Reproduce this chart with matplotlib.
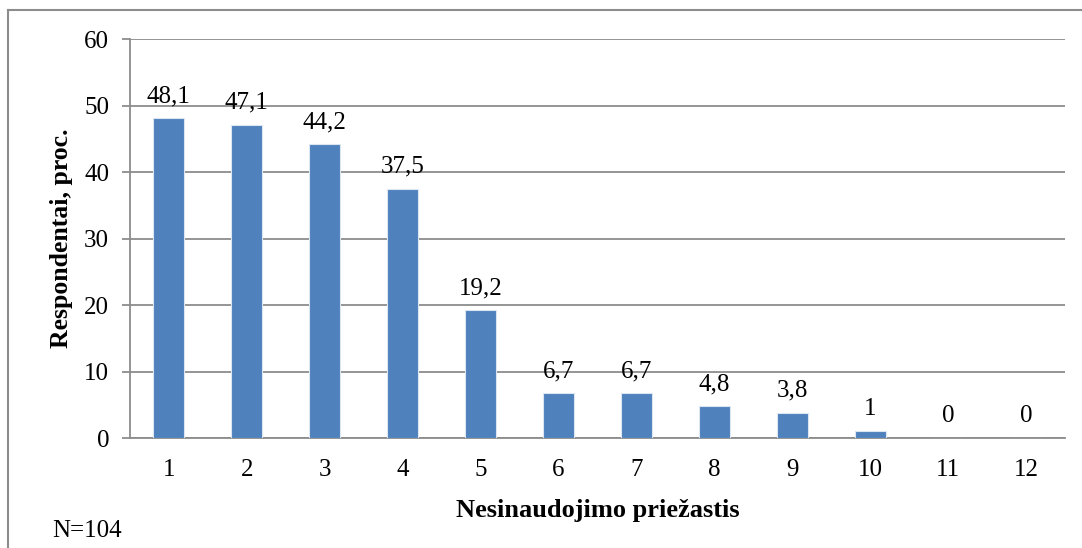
import matplotlib.pyplot as plt
from matplotlib.lines import Line2D

# reasons for not using (1..12) and share of respondents, %
REASONS = [1, 2, 3, 4, 5, 6, 7, 8, 9, 10, 11, 12]
SHARES = [48.1, 47.1, 44.2, 37.5, 19.2, 6.7, 6.7, 4.8, 3.8, 1, 0, 0]
Y_TICKS = [0, 10, 20, 30, 40, 50, 60]

BAR_COLOR = "#4F81BD"
GRID_COLOR = "#8C8C8C"

plt.rcParams.update({
    "font.family": ["Liberation Serif", "DejaVu Serif"],
    "font.size": 18,
})

fig = plt.figure(figsize=(10.82, 5.48), dpi=100)
ax = fig.add_axes([0.1201, 0.2007, 0.8642, 0.7281])

bars = ax.bar(REASONS, SHARES, width=0.4, color=BAR_COLOR,
              edgecolor="#DCE6F2", linewidth=0.8, zorder=3)

for x, v in zip(REASONS, SHARES):
    ax.annotate(f"{v:g}".replace(".", ","), (x, v), xytext=(0, 8),
                textcoords="offset points", ha="center", va="bottom",
                fontsize=18)

ax.set_xlim(0.5, 12.5)
ax.set_ylim(0, 60)
ax.set_yticks(Y_TICKS)
ax.set_xticks(REASONS)
ax.set_xticklabels([str(r) for r in REASONS])
ax.grid(axis="y", color=GRID_COLOR, linewidth=1.3, zorder=0)
ax.set_axisbelow(True)

for side in ("top", "right"):
    ax.spines[side].set_visible(False)
for side in ("left", "bottom"):
    ax.spines[side].set_color(GRID_COLOR)
    ax.spines[side].set_linewidth(1.3)

ax.tick_params(axis="y", length=6, width=1.3, color=GRID_COLOR, pad=9)
ax.tick_params(axis="x", length=0, pad=15)

ax.set_ylabel("Respondentai, proc.", fontweight="bold", fontsize=18.5, labelpad=8)
ax.set_xlabel("Nesinaudojimo priežastis", fontweight="bold", fontsize=19, labelpad=13)

fig.text(52 / 1082, 1 - 531 / 548, "N=104", ha="left", va="center", fontsize=18)

# outer frame (only top and left edges visible in the original crop)
fig.add_artist(Line2D([8 / 1082, 1.0], [1 - 10 / 548] * 2, transform=fig.transFigure,
                      color=GRID_COLOR, linewidth=1.5))
fig.add_artist(Line2D([8 / 1082] * 2, [0.0, 1 - 10 / 548], transform=fig.transFigure,
                      color=GRID_COLOR, linewidth=1.5))

fig.savefig("out.png", dpi=100)
